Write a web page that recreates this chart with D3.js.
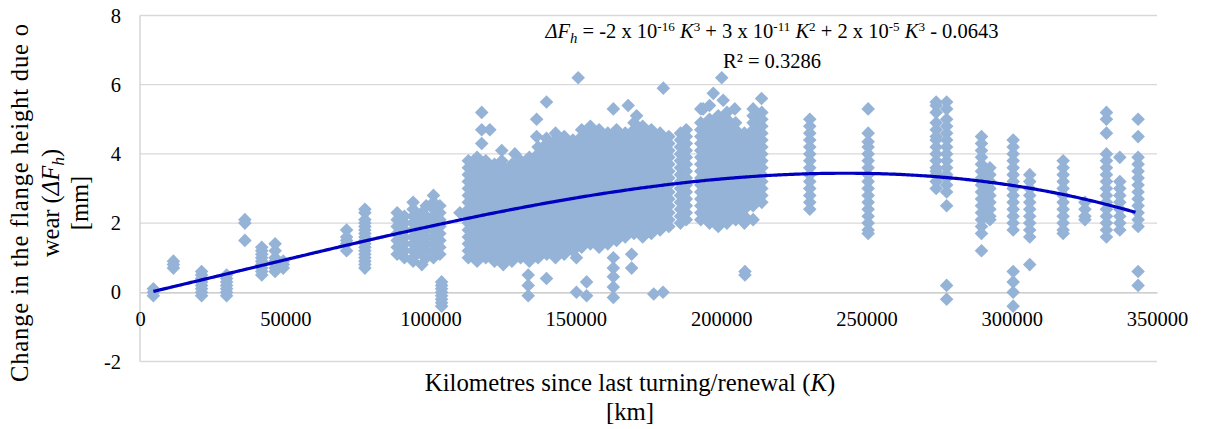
<!DOCTYPE html>
<html>
<head>
<meta charset="utf-8">
<script src="https://cdn.jsdelivr.net/npm/d3@7"></script>
</head>
<body style="margin:0">
<div id="wrap"></div>
<script>
// ---------------- DATA ----------------
// Tick values
const xTicks = [0, 50000, 100000, 150000, 200000, 250000, 300000, 350000];
const yTicks = [-2, 0, 2, 4, 6, 8];

// Vertical groups of measurements: kilometres (thousands) and wear values [mm]
const columnKm = [
  4.6, 11.5, 21.2, 29.8, 36.1, 41.9, 46.5, 49.3, 71.1, 77.4,
  88.5, 91, 94, 97, 98.5, 101, 103.2, 103.8,
  113, 116, 119, 122, 125, 128, 131, 134, 137, 140, 143, 146, 149, 152, 155, 158, 161, 164, 167, 170, 173, 176, 179, 182,
  186, 188, 193, 196, 199, 202, 205, 208, 211, 214,
  230.5, 250.6, 274, 277.6, 289.6, 292.5, 300.5, 306.2, 317.7, 325.2, 332.6, 337.2, 343.5
];
const columnWear = [
  [0.1, 0.0, -0.1],
  [0.9, 0.8, 0.7],
  [0.6, 0.5, 0.4, 0.3, 0.2, 0.1, 0.0, -0.1],
  [0.5, 0.4, 0.3, 0.2, 0.1, 0.0, -0.1],
  [2.1, 2.0, 1.5],
  [1.3, 1.2, 1.1, 1.0, 0.9, 0.8, 0.7, 0.6, 0.5],
  [1.4, 1.2, 1.0, 0.9, 0.8, 0.7, 0.6],
  [0.9, 0.8, 0.7],
  [1.8, 1.6, 1.5, 1.4, 1.2],
  [2.4, 2.3, 2.1, 2.0, 1.9, 1.8, 1.7, 1.6, 1.5, 1.4, 1.3, 1.2, 1.1, 1.0, 0.9, 0.8, 0.7],
  [2.3, 2.1, 1.9, 1.7, 1.5, 1.3, 1.1],
  [2.2, 2.0, 1.8, 1.6, 1.4, 1.2, 1.0],
  [2.6, 2.4, 2.2, 2.0, 1.8, 1.6, 1.4, 1.2, 1.0, 0.9],
  [2.3, 2.1, 1.9, 1.7, 1.5, 1.3, 1.1, 0.8],
  [2.5, 2.2, 2.0, 1.8, 1.6, 1.4, 1.2, 1.0],
  [2.8, 2.6, 2.4, 2.2, 2.0, 1.8, 1.6, 1.4, 1.2, 1.0],
  [2.5, 2.3, 2.1, 1.9, 1.7, 1.5, 1.3, 1.1],
  [0.3, 0.2, 0.1, 0.0, -0.1, -0.2, -0.3, -0.4],
  [3.8, 3.6, 3.4, 3.2, 3.0, 2.8, 2.6, 2.4, 2.2, 2.0, 1.8, 1.6, 1.4, 1.2, 1.0],
  [3.9, 3.7, 3.5, 3.3, 3.1, 2.9, 2.7, 2.5, 2.3, 2.1, 1.9, 1.7, 1.5, 1.3, 1.1, 0.9],
  [3.8, 3.6, 3.4, 3.2, 3.0, 2.8, 2.6, 2.4, 2.2, 2.0, 1.8, 1.6, 1.4, 1.2, 1.0],
  [3.7, 3.5, 3.3, 3.1, 2.9, 2.7, 2.5, 2.3, 2.1, 1.9, 1.7, 1.5, 1.3, 1.1, 0.9],
  [3.6, 3.4, 3.2, 3.0, 2.8, 2.6, 2.4, 2.2, 2.0, 1.8, 1.6, 1.4, 1.2, 1.0, 0.8],
  [3.7, 3.5, 3.3, 3.1, 2.9, 2.7, 2.5, 2.3, 2.1, 1.9, 1.7, 1.5, 1.3, 1.1, 0.9],
  [3.8, 3.6, 3.4, 3.2, 3.0, 2.8, 2.6, 2.4, 2.2, 2.0, 1.8, 1.6, 1.4, 1.2, 1.0],
  [3.9, 3.7, 3.5, 3.3, 3.1, 2.9, 2.7, 2.5, 2.3, 2.1, 1.9, 1.7, 1.5, 1.3, 1.1, 0.9],
  [4.2, 4.0, 3.8, 3.6, 3.4, 3.2, 3.0, 2.8, 2.6, 2.4, 2.2, 2.0, 1.8, 1.6, 1.4, 1.2, 1.0],
  [4.3, 4.1, 3.9, 3.7, 3.5, 3.3, 3.1, 2.9, 2.7, 2.5, 2.3, 2.1, 1.9, 1.7, 1.5, 1.3, 1.1],
  [4.6, 4.4, 4.2, 4.0, 3.8, 3.6, 3.4, 3.2, 3.0, 2.8, 2.6, 2.4, 2.2, 2.0, 1.8, 1.6, 1.4, 1.2, 1.0],
  [4.5, 4.3, 4.1, 3.9, 3.7, 3.5, 3.3, 3.1, 2.9, 2.7, 2.5, 2.3, 2.1, 1.9, 1.7, 1.5, 1.3, 1.1],
  [4.4, 4.2, 4.0, 3.8, 3.6, 3.4, 3.2, 3.0, 2.8, 2.6, 2.4, 2.2, 2.0, 1.8, 1.6, 1.4, 1.2],
  [4.7, 4.5, 4.3, 4.1, 3.9, 3.7, 3.5, 3.3, 3.1, 2.9, 2.7, 2.5, 2.3, 2.1, 1.9, 1.7, 1.5, 1.3],
  [4.8, 4.6, 4.4, 4.2, 4.0, 3.8, 3.6, 3.4, 3.2, 3.0, 2.8, 2.6, 2.4, 2.2, 2.0, 1.8, 1.6, 1.4],
  [4.7, 4.5, 4.3, 4.1, 3.9, 3.7, 3.5, 3.3, 3.1, 2.9, 2.7, 2.5, 2.3, 2.1, 1.9, 1.7, 1.5, 1.3],
  [4.6, 4.4, 4.2, 4.0, 3.8, 3.6, 3.4, 3.2, 3.0, 2.8, 2.6, 2.4, 2.2, 2.0, 1.8, 1.6, 1.4],
  [4.7, 4.5, 4.3, 4.1, 3.9, 3.7, 3.5, 3.3, 3.1, 2.9, 2.7, 2.5, 2.3, 2.1, 1.9, 1.7, 1.5],
  [4.6, 4.4, 4.2, 4.0, 3.8, 3.6, 3.4, 3.2, 3.0, 2.8, 2.6, 2.4, 2.2, 2.0, 1.8, 1.6],
  [4.9, 4.7, 4.5, 4.3, 4.1, 3.9, 3.7, 3.5, 3.3, 3.1, 2.9, 2.7, 2.5, 2.3, 2.1, 1.9, 1.7],
  [4.8, 4.6, 4.4, 4.2, 4.0, 3.8, 3.6, 3.4, 3.2, 3.0, 2.8, 2.6, 2.4, 2.2, 2.0, 1.8, 1.6],
  [4.7, 4.5, 4.3, 4.1, 3.9, 3.7, 3.5, 3.3, 3.1, 2.9, 2.7, 2.5, 2.3, 2.1, 1.9, 1.7],
  [4.6, 4.4, 4.2, 4.0, 3.8, 3.6, 3.4, 3.2, 3.0, 2.8, 2.6, 2.4, 2.2, 2.0, 1.8],
  [4.5, 4.3, 4.1, 3.9, 3.7, 3.5, 3.3, 3.1, 2.9, 2.7, 2.5, 2.3, 2.1, 1.9],
  [4.6, 4.4, 4.2, 4.0, 3.8, 3.6, 3.4, 3.2, 3.0, 2.8, 2.6, 2.4, 2.2, 2.0],
  [4.7, 4.5, 4.3, 4.1, 3.9, 3.7, 3.5, 3.3, 3.1, 2.9, 2.7, 2.5, 2.3, 2.1],
  [5.3, 4.9, 4.7, 4.5, 4.3, 4.1, 3.9, 3.7, 3.5, 3.3, 3.1, 2.9, 2.7, 2.5, 2.3, 2.1],
  [5.0, 4.8, 4.6, 4.4, 4.2, 4.0, 3.8, 3.6, 3.4, 3.2, 3.0, 2.8, 2.6, 2.4, 2.2, 2.0],
  [5.1, 4.9, 4.7, 4.5, 4.3, 4.1, 3.9, 3.7, 3.5, 3.3, 3.1, 2.9, 2.7, 2.5, 2.3, 2.1, 1.9],
  [5.0, 4.8, 4.6, 4.4, 4.2, 4.0, 3.8, 3.6, 3.4, 3.2, 3.0, 2.8, 2.6, 2.4, 2.2, 2.0],
  [4.9, 4.7, 4.5, 4.3, 4.1, 3.9, 3.7, 3.5, 3.3, 3.1, 2.9, 2.7, 2.5, 2.3, 2.1],
  [4.6, 4.4, 4.2, 4.0, 3.8, 3.6, 3.4, 3.2, 3.0, 2.8, 2.6, 2.4, 2.2, 2.0],
  [5.3, 5.1, 4.9, 4.7, 4.5, 4.3, 4.1, 3.9, 3.7, 3.5, 3.3, 3.1, 2.9, 2.7, 2.5, 2.1],
  [5.2, 5.0, 4.8, 4.6, 4.4, 4.2, 4.0, 3.8, 3.6, 3.4, 3.2, 3.0, 2.8, 2.6],
  [5.0, 4.8, 4.6, 4.4, 4.2, 4.0, 3.8, 3.6, 3.4, 3.2, 3.0, 2.8, 2.6, 2.4],
  [5.3, 4.6, 4.35, 4.2, 4.0, 3.8, 3.6, 3.4, 3.2, 3.0, 2.8, 2.6, 2.4, 2.2, 2.0, 1.8, 1.7],
  [5.5, 5.4, 5.2, 4.9, 4.7, 4.5, 4.4, 4.2, 4.0, 3.8, 3.6, 3.5, 3.4, 3.2, 3.0],
  [5.5, 5.3, 5.0, 4.8, 4.6, 4.4, 4.2, 4.0, 3.8, 3.6, 3.4, 3.3, 3.1, 2.9, 2.5, 0.2, -0.2],
  [4.5, 4.3, 4.1, 3.9, 3.7, 3.5, 3.3, 3.1, 2.9, 2.7, 2.5, 2.3, 2.1, 1.9, 1.7, 1.2],
  [3.6, 3.4, 3.2, 3.0, 2.8, 2.6, 2.4, 2.2, 2.1],
  [4.4, 4.2, 4.0, 3.8, 3.6, 3.4, 3.2, 3.0, 2.8, 2.6, 2.4, 2.2, 2.0, 1.8, 0.6, 0.3, 0.0, -0.4],
  [3.4, 3.2, 3.0, 2.8, 2.6, 2.4, 2.2, 2.0, 1.8, 1.6, 0.8],
  [3.8, 3.6, 3.4, 3.2, 3.0, 2.8, 2.6, 2.4, 2.2, 2.0, 1.8, 1.7],
  [2.6, 2.4, 2.2, 2.1],
  [5.2, 5.0, 4.6, 4.0, 3.8, 3.6, 3.4, 3.2, 3.0, 2.8, 2.6, 2.4, 2.2, 2.0, 1.8, 1.6],
  [3.9, 3.2, 3.0, 2.8, 2.6, 2.4, 2.2, 2.0, 1.8],
  [5.0, 4.5, 3.9, 3.7, 3.5, 3.3, 3.1, 2.9, 2.7, 2.5, 2.3, 2.1, 1.9, 0.6, 0.2]
];

// Isolated measurements (kilometres in thousands, wear in mm)
const outlierKm = [
  110.1, 117.6, 117.6, 120.4, 117.6, 124.5, 124.5, 129, 136.5, 136.5, 139.9, 139.9, 150.8, 162.9, 168, 170.9, 180.1,
  193.8, 196, 197.3, 200.2, 200.7, 202, 204.7, 213.9,
  133.6, 133.6, 133.6, 139.9, 150.2, 150.2, 153.7, 153.7, 162.9, 162.9, 162.9, 162.9, 162.9, 169.2, 169.2, 176.8, 180, 208.2, 208.2
];
const outlierWear = [
  2.3, 5.2, 4.7, 4.7, 4.3, 4.1, 3.8, 4.0, 5.0, 4.5, 4.45, 5.5, 6.2, 5.3, 5.4, 5.1, 5.9,
  5.3, 5.4, 5.75, 6.2, 5.55, 5.2, 5.3, 5.6,
  0.5, 0.2, -0.1, 0.4, 1.0, 0.0, 0.3, -0.1, 1.0, 0.7, 0.45, 0.15, -0.15, 1.1, 0.7, -0.05, 0.0, 0.6, 0.5
];

// Polynomial trend line (order 3): coefficients for K^0 .. K^3, and K range
const trendCoef = [-0.0643, 1.9652e-5, 1.66e-11, -1.568e-16];
const trendRange = [4600, 343500];

// ---------------- CHART ----------------
const FONT = "Liberation Serif";
const svg = d3.select("#wrap").append("svg").attr("width", 1205).attr("height", 429)
  .style("display", "block");
const x = d3.scaleLinear().domain([0, 350000]).range([140, 1157]);
const y = d3.scaleLinear().domain([-2, 8]).range([361.5, 15.5]);
const intFmt = d => String(Math.round(d));

function setFont(sel) {
  sel.attr("font-family", FONT).style("font-family", "'Liberation Serif'", "important");
}

// gridlines
svg.append("g").selectAll("line").data(yTicks.filter(t => t !== 0)).join("line")
  .attr("x1", x(0)).attr("x2", x(350000))
  .attr("y1", d => y(d)).attr("y2", d => y(d))
  .attr("stroke", "#d9d9d9").attr("stroke-width", 1.3);

// y axis line
svg.append("line").attr("x1", x(0)).attr("x2", x(0)).attr("y1", y(8)).attr("y2", y(-2))
  .attr("stroke", "#cfcfcf").attr("stroke-width", 1.3);

// x axis line (at y = 0), drawn under the points
const xAxis = svg.append("g").attr("transform", `translate(0,${y(0)})`)
  .call(d3.axisBottom(x).tickValues(xTicks).tickSize(0).tickPadding(19).tickFormat(intFmt));
xAxis.attr("font-size", 20.5);
xAxis.select(".domain").attr("stroke", "#bfbfbf").attr("stroke-width", 1.3);
xAxis.selectAll("text").attr("fill", "#000").call(setFont);

// points
const points = [];
columnKm.forEach((k, i) => columnWear[i].forEach(w => points.push([k * 1000, w])));
outlierKm.forEach((k, i) => points.push([k * 1000, outlierWear[i]]));
const r = 6.8;
svg.append("g").selectAll("path").data(points).join("path")
  .attr("transform", d => `translate(${x(d[0])},${y(d[1])})`)
  .attr("d", `M0,${-r}L${r},0L0,${r}L${-r},0Z`)
  .attr("fill", "#95b3d7");

// y axis labels
const yAxis = svg.append("g").attr("transform", `translate(${x(0)},0)`)
  .call(d3.axisLeft(y).tickValues(yTicks).tickSize(0).tickPadding(19).tickFormat(intFmt));
yAxis.attr("font-size", 20.5);
yAxis.select(".domain").remove();
yAxis.selectAll("text").attr("fill", "#000").call(setFont);

// trend line
const trendK = d3.range(trendRange[0], trendRange[1] + 1, 1000);
const trendF = K => trendCoef[0] + trendCoef[1] * K + trendCoef[2] * K * K + trendCoef[3] * K * K * K;
svg.append("path").datum(trendK)
  .attr("d", d3.line().x(K => x(K)).y(K => y(trendF(K))).curve(d3.curveMonotoneX))
  .attr("fill", "none").attr("stroke", "#0000c0").attr("stroke-width", 3.2);

// rich text helper
function rich(parent, xPos, yPos, size, segs) {
  const t = parent.append("text").attr("x", xPos).attr("y", yPos)
    .attr("font-size", size).attr("text-anchor", "middle").attr("fill", "#000")
    .style("white-space", "pre").call(setFont);
  let shift = 0;
  segs.forEach(s => {
    let target = 0, fs = size;
    if (s.sup) { target = -0.36 * size; fs = 0.64 * size; }
    if (s.sub) { target = 0.22 * size; fs = 0.72 * size; }
    const ts = t.append("tspan").text(s.t).attr("font-size", fs);
    if (target !== shift) { ts.attr("dy", target - shift); shift = target; }
    if (s.i) ts.attr("font-style", "italic");
  });
  return t;
}

// equation
rich(svg, 772, 38, 20.5, [
  {t: "ΔF", i: true}, {t: "h", i: true, sub: true}, {t: " = -2 x 10"}, {t: "-16", sup: true},
  {t: " "}, {t: "K", i: true}, {t: "3", sup: true}, {t: " + 3 x 10"}, {t: "-11", sup: true},
  {t: " "}, {t: "K", i: true}, {t: "2", sup: true}, {t: " + 2 x 10"}, {t: "-5", sup: true},
  {t: " "}, {t: "K", i: true}, {t: "3", sup: true}, {t: " - 0.0643"}
]);
rich(svg, 772, 68, 20.5, [{t: "R² = 0.3286"}]);

// x title
rich(svg, 630, 391, 24.8, [{t: "Kilometres since last turning/renewal ("}, {t: "K", i: true}, {t: ")"}]);
rich(svg, 630, 420, 24.8, [{t: "[km]"}]);

// y title
const yt = svg.append("g").attr("transform", "rotate(-90)");
rich(yt, -203, 28, 24.5, [{t: "Change in the flange height due o"}])
  .attr("textLength", 358).attr("lengthAdjust", "spacing");
rich(yt, -203, 59, 24.5, [{t: "wear ("}, {t: "ΔF", i: true}, {t: "h", i: true, sub: true}, {t: ")"}]);
rich(yt, -203, 88, 24.5, [{t: "[mm]"}]);
</script>
</body>
</html>
